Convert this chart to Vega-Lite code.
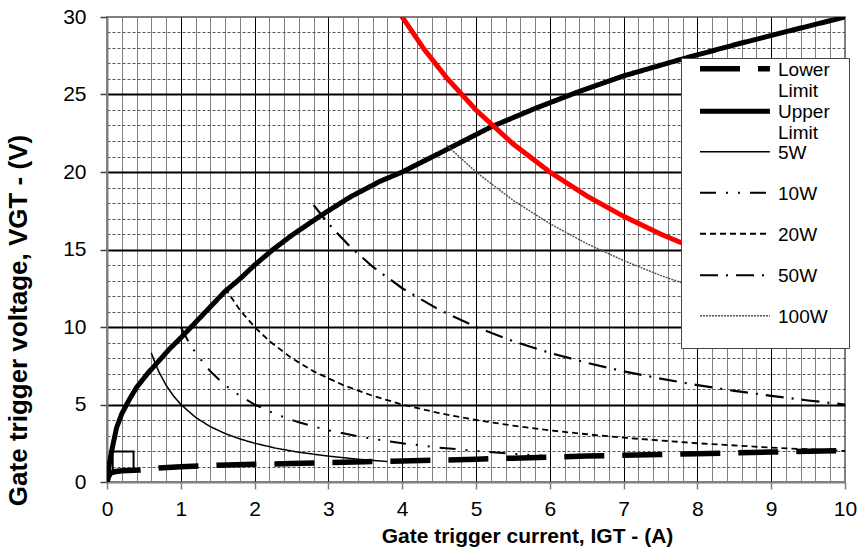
{
  "$schema": "https://vega.github.io/schema/vega-lite/v6.json",
  "width": 738,
  "height": 465,
  "autosize": "none",
  "padding": {"left": 107, "top": 17, "right": 13, "bottom": 73},
  "background": "white",
  "config": {
    "font": "Liberation Sans",
    "view": {"stroke": "#808080", "strokeWidth": 2},
    "legend": {
      "orient": "none",
      "legendX": 574,
      "legendY": 41,
      "fillColor": "white",
      "strokeColor": "#444444",
      "strokeWidth": 1,
      "padding": 0,
      "symbolType": "M-1,-0.58H2.78",
      "symbolSize": 1369,
      "symbolOffset": 16,
      "labelFont": "Liberation Sans",
      "labelFontSize": 19,
      "labelColor": "black",
      "labelOffset": 38,
      "labelLimit": 200,
      "labelBaseline": "bottom",
      "rowPadding": -1.5
    }
  },
  "datasets": {
    "curves": [
      {"s": "Lower Limit", "x": 0, "y": 0},
      {"s": "Lower Limit", "x": 0.02, "y": 0.35},
      {"s": "Lower Limit", "x": 0.05, "y": 0.58},
      {"s": "Lower Limit", "x": 0.1, "y": 0.66},
      {"s": "Lower Limit", "x": 0.2, "y": 0.72},
      {"s": "Lower Limit", "x": 0.45, "y": 0.77},
      {"s": "Lower Limit", "x": 0.7, "y": 0.9},
      {"s": "Lower Limit", "x": 1.0, "y": 0.98},
      {"s": "Lower Limit", "x": 1.5, "y": 1.08},
      {"s": "Lower Limit", "x": 2.0, "y": 1.14},
      {"s": "Lower Limit", "x": 2.5, "y": 1.19},
      {"s": "Lower Limit", "x": 3.0, "y": 1.25},
      {"s": "Lower Limit", "x": 3.5, "y": 1.31},
      {"s": "Lower Limit", "x": 4.0, "y": 1.36},
      {"s": "Lower Limit", "x": 4.5, "y": 1.41},
      {"s": "Lower Limit", "x": 5.0, "y": 1.47},
      {"s": "Lower Limit", "x": 5.5, "y": 1.54},
      {"s": "Lower Limit", "x": 6.0, "y": 1.6},
      {"s": "Lower Limit", "x": 6.5, "y": 1.67},
      {"s": "Lower Limit", "x": 7.0, "y": 1.72},
      {"s": "Lower Limit", "x": 7.5, "y": 1.77},
      {"s": "Lower Limit", "x": 8.0, "y": 1.83},
      {"s": "Lower Limit", "x": 8.5, "y": 1.88},
      {"s": "Lower Limit", "x": 9.0, "y": 1.93},
      {"s": "Lower Limit", "x": 9.5, "y": 1.98},
      {"s": "Lower Limit", "x": 10, "y": 2.02},
      {"s": "Upper Limit", "x": 0, "y": 0},
      {"s": "Upper Limit", "x": 0.02, "y": 0.8},
      {"s": "Upper Limit", "x": 0.05, "y": 1.7},
      {"s": "Upper Limit", "x": 0.085, "y": 2.5},
      {"s": "Upper Limit", "x": 0.13, "y": 3.5},
      {"s": "Upper Limit", "x": 0.2, "y": 4.4},
      {"s": "Upper Limit", "x": 0.3, "y": 5.3},
      {"s": "Upper Limit", "x": 0.4, "y": 6.1},
      {"s": "Upper Limit", "x": 0.55, "y": 7.0},
      {"s": "Upper Limit", "x": 0.7, "y": 7.8},
      {"s": "Upper Limit", "x": 0.85, "y": 8.6},
      {"s": "Upper Limit", "x": 1.0, "y": 9.3},
      {"s": "Upper Limit", "x": 1.2, "y": 10.3},
      {"s": "Upper Limit", "x": 1.4, "y": 11.3},
      {"s": "Upper Limit", "x": 1.6, "y": 12.3},
      {"s": "Upper Limit", "x": 1.8, "y": 13.1},
      {"s": "Upper Limit", "x": 2.0, "y": 14.0},
      {"s": "Upper Limit", "x": 2.25, "y": 15.0},
      {"s": "Upper Limit", "x": 2.5, "y": 15.9},
      {"s": "Upper Limit", "x": 2.9, "y": 17.2},
      {"s": "Upper Limit", "x": 3.3, "y": 18.4},
      {"s": "Upper Limit", "x": 3.7, "y": 19.4},
      {"s": "Upper Limit", "x": 4.0, "y": 20.0},
      {"s": "Upper Limit", "x": 4.5, "y": 21.2},
      {"s": "Upper Limit", "x": 5.2, "y": 22.9},
      {"s": "Upper Limit", "x": 5.8, "y": 24.1},
      {"s": "Upper Limit", "x": 6.4, "y": 25.2},
      {"s": "Upper Limit", "x": 7.0, "y": 26.2},
      {"s": "Upper Limit", "x": 7.8, "y": 27.3},
      {"s": "Upper Limit", "x": 8.5, "y": 28.2},
      {"s": "Upper Limit", "x": 9.2, "y": 29.05},
      {"s": "Upper Limit", "x": 10, "y": 30},
      {"s": "5W", "x": 0.6, "y": 8.33},
      {"s": "5W", "x": 0.65, "y": 7.69},
      {"s": "5W", "x": 0.7, "y": 7.14},
      {"s": "5W", "x": 0.8, "y": 6.25},
      {"s": "5W", "x": 0.9, "y": 5.56},
      {"s": "5W", "x": 1.0, "y": 5.0},
      {"s": "5W", "x": 1.2, "y": 4.17},
      {"s": "5W", "x": 1.4, "y": 3.57},
      {"s": "5W", "x": 1.6, "y": 3.13},
      {"s": "5W", "x": 1.8, "y": 2.78},
      {"s": "5W", "x": 2.0, "y": 2.5},
      {"s": "5W", "x": 2.3, "y": 2.17},
      {"s": "5W", "x": 2.6, "y": 1.92},
      {"s": "5W", "x": 3.0, "y": 1.67},
      {"s": "5W", "x": 3.4, "y": 1.47},
      {"s": "5W", "x": 3.8, "y": 1.32},
      {"s": "10W", "x": 1.0, "y": 10},
      {"s": "10W", "x": 1.1, "y": 9.09},
      {"s": "10W", "x": 1.2, "y": 8.33},
      {"s": "10W", "x": 1.4, "y": 7.14},
      {"s": "10W", "x": 1.6, "y": 6.25},
      {"s": "10W", "x": 1.8, "y": 5.56},
      {"s": "10W", "x": 2.0, "y": 5.0},
      {"s": "10W", "x": 2.3, "y": 4.35},
      {"s": "10W", "x": 2.6, "y": 3.85},
      {"s": "10W", "x": 3.0, "y": 3.33},
      {"s": "10W", "x": 3.5, "y": 2.86},
      {"s": "10W", "x": 4.0, "y": 2.5},
      {"s": "10W", "x": 4.5, "y": 2.22},
      {"s": "10W", "x": 5.0, "y": 2.0},
      {"s": "10W", "x": 5.5, "y": 1.82},
      {"s": "10W", "x": 5.9, "y": 1.7},
      {"s": "20W", "x": 1.6, "y": 12.5},
      {"s": "20W", "x": 1.8, "y": 11.1},
      {"s": "20W", "x": 2.0, "y": 10},
      {"s": "20W", "x": 2.2, "y": 9.09},
      {"s": "20W", "x": 2.5, "y": 8},
      {"s": "20W", "x": 2.8, "y": 7.14},
      {"s": "20W", "x": 3.2, "y": 6.25},
      {"s": "20W", "x": 3.6, "y": 5.56},
      {"s": "20W", "x": 4.0, "y": 5},
      {"s": "20W", "x": 4.5, "y": 4.44},
      {"s": "20W", "x": 5.0, "y": 4},
      {"s": "20W", "x": 5.5, "y": 3.64},
      {"s": "20W", "x": 6.0, "y": 3.33},
      {"s": "20W", "x": 6.5, "y": 3.08},
      {"s": "20W", "x": 7.0, "y": 2.86},
      {"s": "20W", "x": 8.0, "y": 2.5},
      {"s": "20W", "x": 9.0, "y": 2.22},
      {"s": "20W", "x": 10, "y": 2},
      {"s": "50W", "x": 2.8, "y": 17.86},
      {"s": "50W", "x": 3.0, "y": 16.67},
      {"s": "50W", "x": 3.3, "y": 15.15},
      {"s": "50W", "x": 3.6, "y": 13.89},
      {"s": "50W", "x": 4.0, "y": 12.5},
      {"s": "50W", "x": 4.5, "y": 11.11},
      {"s": "50W", "x": 5.0, "y": 10},
      {"s": "50W", "x": 5.5, "y": 9.09},
      {"s": "50W", "x": 6.0, "y": 8.33},
      {"s": "50W", "x": 6.5, "y": 7.69},
      {"s": "50W", "x": 7.0, "y": 7.14},
      {"s": "50W", "x": 7.5, "y": 6.67},
      {"s": "50W", "x": 8.0, "y": 6.25},
      {"s": "50W", "x": 8.5, "y": 5.88},
      {"s": "50W", "x": 9.0, "y": 5.56},
      {"s": "50W", "x": 9.5, "y": 5.26},
      {"s": "50W", "x": 10, "y": 5},
      {"s": "100W", "x": 4.6, "y": 21.74},
      {"s": "100W", "x": 5.0, "y": 20},
      {"s": "100W", "x": 5.5, "y": 18.18},
      {"s": "100W", "x": 6.0, "y": 16.67},
      {"s": "100W", "x": 6.5, "y": 15.38},
      {"s": "100W", "x": 7.0, "y": 14.29},
      {"s": "100W", "x": 7.5, "y": 13.33},
      {"s": "100W", "x": 8.0, "y": 12.5},
      {"s": "100W", "x": 8.5, "y": 11.76},
      {"s": "100W", "x": 9.0, "y": 11.11},
      {"s": "100W", "x": 9.5, "y": 10.53},
      {"s": "100W", "x": 10, "y": 10}
    ],
    "red": [
      {"x": 3.9, "y": 30.77},
      {"x": 4.0, "y": 30},
      {"x": 4.3, "y": 27.9},
      {"x": 4.6, "y": 26.09},
      {"x": 5.0, "y": 24},
      {"x": 5.5, "y": 21.82},
      {"x": 6.0, "y": 20},
      {"x": 6.5, "y": 18.46},
      {"x": 7.0, "y": 17.14},
      {"x": 7.5, "y": 16},
      {"x": 8.0, "y": 15},
      {"x": 8.5, "y": 14.12},
      {"x": 9.0, "y": 13.33},
      {"x": 9.5, "y": 12.63},
      {"x": 10, "y": 12}
    ],
    "box": [
      {"i": 0, "x": 0.077, "y": 0.77},
      {"i": 1, "x": 0.077, "y": 1.96},
      {"i": 2, "x": 0.36, "y": 1.96},
      {"i": 3, "x": 0.36, "y": 0.77}
    ]
  },
  "layer": [
    {
      "data": {"name": "curves"},
      "mark": {"type": "line", "clip": true},
      "encoding": {
        "x": {
          "field": "x", "type": "quantitative",
          "scale": {"domain": [0, 10], "nice": false, "zero": false},
          "title": "Gate trigger current,  IGT - (A)",
          "axis": {
            "values": [0,0.2,0.4,0.6,0.8,1,1.2,1.4,1.6,1.8,2,2.2,2.4,2.6,2.8,3,3.2,3.4,3.6,3.8,4,4.2,4.4,4.6,4.8,5,5.2,5.4,5.6,5.8,6,6.2,6.4,6.6,6.8,7,7.2,7.4,7.6,7.8,8,8.2,8.4,8.6,8.8,9,9.2,9.4,9.6,9.8,10],
            "tickCount": 200,
            "labelExpr": "datum.value % 1 === 0 ? format(datum.value, 'd') : ''",
            "labelOverlap": false,
            "labelFlush": false,
            "labelFontSize": 21,
            "labelColor": "black",
            "labelPadding": 9,
            "grid": true,
            "gridColor": {"condition": {"test": "datum.value % 1 === 0", "value": "#000000"}, "value": "#808080"},
            "gridOpacity": {"condition": {"test": "datum.value === 0 || datum.value === 10", "value": 0}, "value": 1},
            "gridWidth": 1,
            "tickColor": "#808080",
            "tickWidth": 1.5,
            "tickSize": 7,
            "tickOpacity": {"condition": {"test": "datum.value % 1 === 0", "value": 1}, "value": 0},
            "domainColor": "#808080",
            "domainWidth": 2,
            "titleFontSize": 21,
            "titleFontWeight": "bold",
            "titleColor": "black",
            "titleX": 420,
            "titleY": 43,
            "titleBaseline": "top"
          }
        },
        "y": {
          "field": "y", "type": "quantitative",
          "scale": {"domain": [0, 30], "nice": false, "zero": false},
          "title": "Gate trigger voltage, VGT - (V)",
          "axis": {
            "values": [0,1,2,3,4,5,6,7,8,9,10,11,12,13,14,15,16,17,18,19,20,21,22,23,24,25,26,27,28,29,30],
            "tickCount": 200,
            "labelExpr": "datum.value % 5 === 0 ? format(datum.value, 'd') : ''",
            "labelOverlap": false,
            "labelFlush": false,
            "labelFontSize": 21,
            "labelColor": "black",
            "labelPadding": 14,
            "grid": true,
            "gridColor": {"condition": {"test": "datum.value % 5 === 0", "value": "#000000"}, "value": "#555555"},
            "gridWidth": {"condition": {"test": "datum.value % 5 === 0", "value": 2}, "value": 1},
            "gridDash": {"condition": {"test": "datum.value % 5 === 0", "value": []}, "value": [3, 2]},
            "gridOpacity": {"condition": {"test": "datum.value === 0 || datum.value === 30", "value": 0}, "value": 1},
            "tickColor": "#404040",
            "tickWidth": 1.5,
            "tickSize": 7,
            "tickOpacity": {"condition": {"test": "datum.value % 5 === 0", "value": 1}, "value": 0},
            "domainColor": "#808080",
            "domainWidth": 2,
            "titleFontSize": 26,
            "titleFontWeight": "bold",
            "titleColor": "black",
            "titleX": -89,
            "titleY": 303,
            "titleAngle": 270,
            "titleBaseline": "middle",
            "titleAlign": "center"
          }
        },
        "color": {
          "field": "s", "type": "nominal", "title": null,
          "legend": {"labelExpr": "split(datum.label + '\u00a0\u00a0\u00a0\u00a0\u200b' + (indexof(datum.label, ' ') < 0 ? ' \u00a0\u200b' : ''), ' ')"},
          "scale": {"domain": ["Lower Limit", "Upper Limit", "5W", "10W", "20W", "50W", "100W"], "range": ["#000000", "#000000", "#000000", "#000000", "#000000", "#000000", "#555555"]}
        },
        "strokeDash": {
          "field": "s", "type": "nominal", "title": null,
          "legend": {"labelExpr": "split(datum.label + '\u00a0\u00a0\u00a0\u00a0\u200b' + (indexof(datum.label, ' ') < 0 ? ' \u00a0\u200b' : ''), ' ')"},
          "scale": {"domain": ["Lower Limit", "Upper Limit", "5W", "10W", "20W", "50W", "100W"], "range": [[40, 18], [1, 0], [1, 0], [16, 10, 2, 10, 2, 10], [6, 4], [18, 8, 2, 8], [2, 1]]}
        },
        "strokeWidth": {
          "field": "s", "type": "nominal", "title": null,
          "legend": {"labelExpr": "split(datum.label + '\u00a0\u00a0\u00a0\u00a0\u200b' + (indexof(datum.label, ' ') < 0 ? ' \u00a0\u200b' : ''), ' ')"},
          "scale": {"type": "ordinal", "domain": ["Lower Limit", "Upper Limit", "5W", "10W", "20W", "50W", "100W"], "range": [5.5, 5, 1.5, 2, 1.8, 2.2, 1.5]}
        }
      }
    },
    {
      "data": {"name": "red"},
      "mark": {"type": "line", "clip": true, "color": "#ff0000", "strokeWidth": 5},
      "encoding": {
        "x": {"field": "x", "type": "quantitative", "title": "Gate trigger current,  IGT - (A)"},
        "y": {"field": "y", "type": "quantitative", "title": "Gate trigger voltage, VGT - (V)"}
      }
    },
    {
      "data": {"name": "box"},
      "mark": {"type": "line", "clip": true, "color": "#000000", "strokeWidth": 2},
      "encoding": {
        "x": {"field": "x", "type": "quantitative", "title": "Gate trigger current,  IGT - (A)"},
        "y": {"field": "y", "type": "quantitative", "title": "Gate trigger voltage, VGT - (V)"},
        "order": {"field": "i", "type": "quantitative"}
      }
    }
  ]
}
